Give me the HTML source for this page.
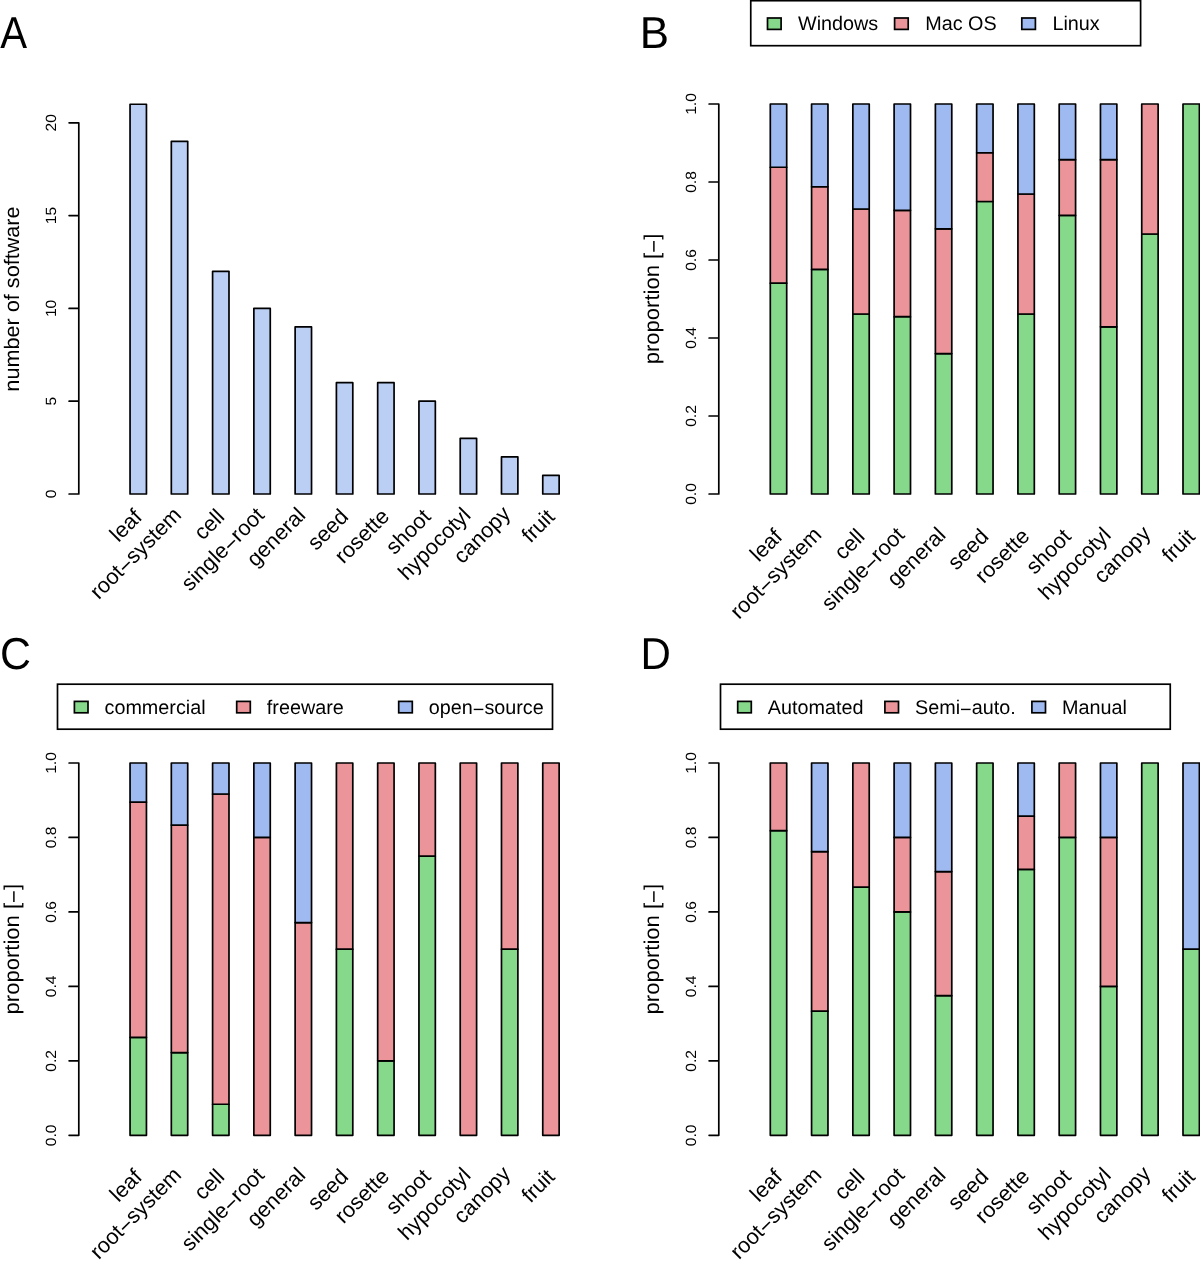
<!DOCTYPE html><html><head><meta charset="utf-8"><style>html,body{margin:0;padding:0;background:#fff;}svg{display:block;will-change:transform;font-kerning:none;text-rendering:geometricPrecision;}</style></head><body><svg width="1200" height="1264" viewBox="0 0 1200 1264" font-family='"Liberation Sans", sans-serif' fill="#000">
<rect width="1200" height="1264" fill="#fff"/>
<text transform="translate(0.3 47.6) scale(0.9 1)" font-size="44.7">A</text>
<text transform="translate(639.8 47.7) scale(0.98 1)" font-size="44.7">B</text>
<text transform="translate(0 669.2) scale(0.96 1)" font-size="44.7">C</text>
<text transform="translate(640.4 669) scale(0.94 1)" font-size="44.7">D</text>
<g stroke="#000" stroke-width="1.7" stroke-linejoin="round">
<rect x="130.05" y="104.24" width="16.4" height="389.76" fill="#BBCFF5"/>
<rect x="171.32" y="141.36" width="16.4" height="352.64" fill="#BBCFF5"/>
<rect x="212.59" y="271.28" width="16.4" height="222.72" fill="#BBCFF5"/>
<rect x="253.86" y="308.4" width="16.4" height="185.6" fill="#BBCFF5"/>
<rect x="295.13" y="326.96" width="16.4" height="167.04" fill="#BBCFF5"/>
<rect x="336.4" y="382.64" width="16.4" height="111.36" fill="#BBCFF5"/>
<rect x="377.67" y="382.64" width="16.4" height="111.36" fill="#BBCFF5"/>
<rect x="418.94" y="401.2" width="16.4" height="92.8" fill="#BBCFF5"/>
<rect x="460.21" y="438.32" width="16.4" height="55.68" fill="#BBCFF5"/>
<rect x="501.48" y="456.88" width="16.4" height="37.12" fill="#BBCFF5"/>
<rect x="542.75" y="475.44" width="16.4" height="18.56" fill="#BBCFF5"/>
</g>
<g stroke="#000" stroke-width="1.7" fill="none" stroke-linecap="round" stroke-linejoin="round">
<path d="M78.8 494V122.8M78.8 494H69.1M78.8 401.2H69.1M78.8 308.4H69.1M78.8 215.6H69.1M78.8 122.8H69.1"/>
</g>
<g font-size="15.6" text-anchor="middle">
<text transform="translate(56.2 494) rotate(-90) scale(1 0.95)">0</text>
<text transform="translate(56.2 401.2) rotate(-90) scale(1 0.95)">5</text>
<text transform="translate(56.2 308.4) rotate(-90) scale(1 0.95)">10</text>
<text transform="translate(56.2 215.6) rotate(-90) scale(1 0.95)">15</text>
<text transform="translate(56.2 122.8) rotate(-90) scale(1 0.95)">20</text>
</g>
<text font-size="21.65" text-anchor="middle" transform="translate(18.9 299) rotate(-90) scale(1 0.97)">number of software</text>
<g font-size="21.7" text-anchor="end">
<text transform="translate(143.32 518.17) rotate(-45) scale(1 1)">leaf</text>
<text transform="translate(182.61 516.19) rotate(-45) scale(1 1)">root<tspan dy="0.1em">−</tspan><tspan dy="-0.1em">system</tspan></text>
<text transform="translate(225.78 518.09) rotate(-45) scale(1 1)">cell</text>
<text transform="translate(265.48 516.52) rotate(-45) scale(1 1)">single<tspan dy="0.1em">−</tspan><tspan dy="-0.1em">root</tspan></text>
<text transform="translate(306.75 516.52) rotate(-45) scale(1 1)">general</text>
<text transform="translate(349.59 518.09) rotate(-45) scale(1 1)">seed</text>
<text transform="translate(390.49 517.72) rotate(-45) scale(1 1)">rosette</text>
<text transform="translate(432.13 518.09) rotate(-45) scale(1 1)">shoot</text>
<text transform="translate(471.88 516.57) rotate(-45) scale(1 1)">hypocotyl</text>
<text transform="translate(511.77 515.19) rotate(-45) scale(1 1)">canopy</text>
<text transform="translate(556.02 518.17) rotate(-45) scale(1 1)">fruit</text>
</g>
<g stroke="#000" stroke-width="1.7" stroke-linejoin="round">
<rect x="770.3" y="283.19" width="16.4" height="210.81" fill="#86D98B"/>
<rect x="770.3" y="167.24" width="16.4" height="115.95" fill="#EB9499"/>
<rect x="770.3" y="104" width="16.4" height="63.24" fill="#9FBAF0"/>
<rect x="811.57" y="269.45" width="16.4" height="224.55" fill="#86D98B"/>
<rect x="811.57" y="186.73" width="16.4" height="82.73" fill="#EB9499"/>
<rect x="811.57" y="104" width="16.4" height="82.73" fill="#9FBAF0"/>
<rect x="852.84" y="314" width="16.4" height="180" fill="#86D98B"/>
<rect x="852.84" y="209" width="16.4" height="105" fill="#EB9499"/>
<rect x="852.84" y="104" width="16.4" height="105" fill="#9FBAF0"/>
<rect x="894.11" y="316.73" width="16.4" height="177.27" fill="#86D98B"/>
<rect x="894.11" y="210.36" width="16.4" height="106.36" fill="#EB9499"/>
<rect x="894.11" y="104" width="16.4" height="106.36" fill="#9FBAF0"/>
<rect x="935.38" y="353.6" width="16.4" height="140.4" fill="#86D98B"/>
<rect x="935.38" y="228.8" width="16.4" height="124.8" fill="#EB9499"/>
<rect x="935.38" y="104" width="16.4" height="124.8" fill="#9FBAF0"/>
<rect x="976.65" y="201.5" width="16.4" height="292.5" fill="#86D98B"/>
<rect x="976.65" y="152.75" width="16.4" height="48.75" fill="#EB9499"/>
<rect x="976.65" y="104" width="16.4" height="48.75" fill="#9FBAF0"/>
<rect x="1017.92" y="314" width="16.4" height="180" fill="#86D98B"/>
<rect x="1017.92" y="194" width="16.4" height="120" fill="#EB9499"/>
<rect x="1017.92" y="104" width="16.4" height="90" fill="#9FBAF0"/>
<rect x="1059.19" y="215.43" width="16.4" height="278.57" fill="#86D98B"/>
<rect x="1059.19" y="159.71" width="16.4" height="55.71" fill="#EB9499"/>
<rect x="1059.19" y="104" width="16.4" height="55.71" fill="#9FBAF0"/>
<rect x="1100.46" y="326.86" width="16.4" height="167.14" fill="#86D98B"/>
<rect x="1100.46" y="159.71" width="16.4" height="167.14" fill="#EB9499"/>
<rect x="1100.46" y="104" width="16.4" height="55.71" fill="#9FBAF0"/>
<rect x="1141.73" y="234" width="16.4" height="260" fill="#86D98B"/>
<rect x="1141.73" y="104" width="16.4" height="130" fill="#EB9499"/>
<rect x="1183" y="104" width="16.4" height="390" fill="#86D98B"/>
</g>
<g stroke="#000" stroke-width="1.7" fill="none" stroke-linecap="round" stroke-linejoin="round">
<path d="M718.8 494V104M718.8 494H709.1M718.8 416H709.1M718.8 338H709.1M718.8 260H709.1M718.8 182H709.1M718.8 104H709.1"/>
</g>
<g font-size="15.6" text-anchor="middle">
<text transform="translate(696.2 494) rotate(-90) scale(1 0.95)">0.0</text>
<text transform="translate(696.2 416) rotate(-90) scale(1 0.95)">0.2</text>
<text transform="translate(696.2 338) rotate(-90) scale(1 0.95)">0.4</text>
<text transform="translate(696.2 260) rotate(-90) scale(1 0.95)">0.6</text>
<text transform="translate(696.2 182) rotate(-90) scale(1 0.95)">0.8</text>
<text transform="translate(696.2 104) rotate(-90) scale(1 0.95)">1.0</text>
</g>
<text font-size="22.05" text-anchor="middle" transform="translate(658.9 299) rotate(-90) scale(1 0.97)">proportion [<tspan dy="0.1em">−</tspan><tspan dy="-0.1em">]</tspan></text>
<g font-size="21.7" text-anchor="end">
<text transform="translate(783.57 537.92) rotate(-45) scale(1 1)">leaf</text>
<text transform="translate(822.86 535.94) rotate(-45) scale(1 1)">root<tspan dy="0.1em">−</tspan><tspan dy="-0.1em">system</tspan></text>
<text transform="translate(866.03 537.84) rotate(-45) scale(1 1)">cell</text>
<text transform="translate(905.73 536.27) rotate(-45) scale(1 1)">single<tspan dy="0.1em">−</tspan><tspan dy="-0.1em">root</tspan></text>
<text transform="translate(947 536.27) rotate(-45) scale(1 1)">general</text>
<text transform="translate(989.84 537.84) rotate(-45) scale(1 1)">seed</text>
<text transform="translate(1030.74 537.47) rotate(-45) scale(1 1)">rosette</text>
<text transform="translate(1072.38 537.84) rotate(-45) scale(1 1)">shoot</text>
<text transform="translate(1112.13 536.32) rotate(-45) scale(1 1)">hypocotyl</text>
<text transform="translate(1152.02 534.94) rotate(-45) scale(1 1)">canopy</text>
<text transform="translate(1196.27 537.92) rotate(-45) scale(1 1)">fruit</text>
</g>
<g stroke="#000" stroke-width="1.7" stroke-linejoin="round">
<rect x="130.05" y="1037.33" width="16.4" height="97.97" fill="#86D98B"/>
<rect x="130.05" y="802.19" width="16.4" height="235.14" fill="#EB9499"/>
<rect x="130.05" y="763" width="16.4" height="39.19" fill="#9FBAF0"/>
<rect x="171.32" y="1052.57" width="16.4" height="82.73" fill="#86D98B"/>
<rect x="171.32" y="825.05" width="16.4" height="227.52" fill="#EB9499"/>
<rect x="171.32" y="763" width="16.4" height="62.05" fill="#9FBAF0"/>
<rect x="212.59" y="1104.27" width="16.4" height="31.03" fill="#86D98B"/>
<rect x="212.59" y="794.02" width="16.4" height="310.25" fill="#EB9499"/>
<rect x="212.59" y="763" width="16.4" height="31.02" fill="#9FBAF0"/>
<rect x="253.86" y="837.46" width="16.4" height="297.84" fill="#EB9499"/>
<rect x="253.86" y="763" width="16.4" height="74.46" fill="#9FBAF0"/>
<rect x="295.13" y="922.56" width="16.4" height="212.74" fill="#EB9499"/>
<rect x="295.13" y="763" width="16.4" height="159.56" fill="#9FBAF0"/>
<rect x="336.4" y="949.15" width="16.4" height="186.15" fill="#86D98B"/>
<rect x="336.4" y="763" width="16.4" height="186.15" fill="#EB9499"/>
<rect x="377.67" y="1060.84" width="16.4" height="74.46" fill="#86D98B"/>
<rect x="377.67" y="763" width="16.4" height="297.84" fill="#EB9499"/>
<rect x="418.94" y="856.07" width="16.4" height="279.23" fill="#86D98B"/>
<rect x="418.94" y="763" width="16.4" height="93.07" fill="#EB9499"/>
<rect x="460.21" y="763" width="16.4" height="372.3" fill="#EB9499"/>
<rect x="501.48" y="949.15" width="16.4" height="186.15" fill="#86D98B"/>
<rect x="501.48" y="763" width="16.4" height="186.15" fill="#EB9499"/>
<rect x="542.75" y="763" width="16.4" height="372.3" fill="#EB9499"/>
</g>
<g stroke="#000" stroke-width="1.7" fill="none" stroke-linecap="round" stroke-linejoin="round">
<path d="M78.8 1135.3V763M78.8 1135.3H69.1M78.8 1060.84H69.1M78.8 986.38H69.1M78.8 911.92H69.1M78.8 837.46H69.1M78.8 763H69.1"/>
</g>
<g font-size="15.6" text-anchor="middle">
<text transform="translate(56.2 1135.3) rotate(-90) scale(1 0.95)">0.0</text>
<text transform="translate(56.2 1060.84) rotate(-90) scale(1 0.95)">0.2</text>
<text transform="translate(56.2 986.38) rotate(-90) scale(1 0.95)">0.4</text>
<text transform="translate(56.2 911.92) rotate(-90) scale(1 0.95)">0.6</text>
<text transform="translate(56.2 837.46) rotate(-90) scale(1 0.95)">0.8</text>
<text transform="translate(56.2 763) rotate(-90) scale(1 0.95)">1.0</text>
</g>
<text font-size="22.05" text-anchor="middle" transform="translate(18.9 949.15) rotate(-90) scale(1 0.97)">proportion [<tspan dy="0.1em">−</tspan><tspan dy="-0.1em">]</tspan></text>
<g font-size="21.7" text-anchor="end">
<text transform="translate(143.32 1178.17) rotate(-45) scale(1 1)">leaf</text>
<text transform="translate(182.61 1176.19) rotate(-45) scale(1 1)">root<tspan dy="0.1em">−</tspan><tspan dy="-0.1em">system</tspan></text>
<text transform="translate(225.78 1178.09) rotate(-45) scale(1 1)">cell</text>
<text transform="translate(265.48 1176.52) rotate(-45) scale(1 1)">single<tspan dy="0.1em">−</tspan><tspan dy="-0.1em">root</tspan></text>
<text transform="translate(306.75 1176.52) rotate(-45) scale(1 1)">general</text>
<text transform="translate(349.59 1178.09) rotate(-45) scale(1 1)">seed</text>
<text transform="translate(390.49 1177.72) rotate(-45) scale(1 1)">rosette</text>
<text transform="translate(432.13 1178.09) rotate(-45) scale(1 1)">shoot</text>
<text transform="translate(471.88 1176.57) rotate(-45) scale(1 1)">hypocotyl</text>
<text transform="translate(511.77 1175.19) rotate(-45) scale(1 1)">canopy</text>
<text transform="translate(556.02 1178.17) rotate(-45) scale(1 1)">fruit</text>
</g>
<g stroke="#000" stroke-width="1.7" stroke-linejoin="round">
<rect x="770.3" y="830.69" width="16.4" height="304.61" fill="#86D98B"/>
<rect x="770.3" y="763" width="16.4" height="67.69" fill="#EB9499"/>
<rect x="811.57" y="1011.2" width="16.4" height="124.1" fill="#86D98B"/>
<rect x="811.57" y="851.64" width="16.4" height="159.56" fill="#EB9499"/>
<rect x="811.57" y="763" width="16.4" height="88.64" fill="#9FBAF0"/>
<rect x="852.84" y="887.1" width="16.4" height="248.2" fill="#86D98B"/>
<rect x="852.84" y="763" width="16.4" height="124.1" fill="#EB9499"/>
<rect x="894.11" y="911.92" width="16.4" height="223.38" fill="#86D98B"/>
<rect x="894.11" y="837.46" width="16.4" height="74.46" fill="#EB9499"/>
<rect x="894.11" y="763" width="16.4" height="74.46" fill="#9FBAF0"/>
<rect x="935.38" y="995.69" width="16.4" height="139.61" fill="#86D98B"/>
<rect x="935.38" y="871.59" width="16.4" height="124.1" fill="#EB9499"/>
<rect x="935.38" y="763" width="16.4" height="108.59" fill="#9FBAF0"/>
<rect x="976.65" y="763" width="16.4" height="372.3" fill="#86D98B"/>
<rect x="1017.92" y="869.37" width="16.4" height="265.93" fill="#86D98B"/>
<rect x="1017.92" y="816.19" width="16.4" height="53.19" fill="#EB9499"/>
<rect x="1017.92" y="763" width="16.4" height="53.19" fill="#9FBAF0"/>
<rect x="1059.19" y="837.46" width="16.4" height="297.84" fill="#86D98B"/>
<rect x="1059.19" y="763" width="16.4" height="74.46" fill="#EB9499"/>
<rect x="1100.46" y="986.38" width="16.4" height="148.92" fill="#86D98B"/>
<rect x="1100.46" y="837.46" width="16.4" height="148.92" fill="#EB9499"/>
<rect x="1100.46" y="763" width="16.4" height="74.46" fill="#9FBAF0"/>
<rect x="1141.73" y="763" width="16.4" height="372.3" fill="#86D98B"/>
<rect x="1183" y="949.15" width="16.4" height="186.15" fill="#86D98B"/>
<rect x="1183" y="763" width="16.4" height="186.15" fill="#9FBAF0"/>
</g>
<g stroke="#000" stroke-width="1.7" fill="none" stroke-linecap="round" stroke-linejoin="round">
<path d="M718.8 1135.3V763M718.8 1135.3H709.1M718.8 1060.84H709.1M718.8 986.38H709.1M718.8 911.92H709.1M718.8 837.46H709.1M718.8 763H709.1"/>
</g>
<g font-size="15.6" text-anchor="middle">
<text transform="translate(696.2 1135.3) rotate(-90) scale(1 0.95)">0.0</text>
<text transform="translate(696.2 1060.84) rotate(-90) scale(1 0.95)">0.2</text>
<text transform="translate(696.2 986.38) rotate(-90) scale(1 0.95)">0.4</text>
<text transform="translate(696.2 911.92) rotate(-90) scale(1 0.95)">0.6</text>
<text transform="translate(696.2 837.46) rotate(-90) scale(1 0.95)">0.8</text>
<text transform="translate(696.2 763) rotate(-90) scale(1 0.95)">1.0</text>
</g>
<text font-size="22.05" text-anchor="middle" transform="translate(658.9 949.15) rotate(-90) scale(1 0.97)">proportion [<tspan dy="0.1em">−</tspan><tspan dy="-0.1em">]</tspan></text>
<g font-size="21.7" text-anchor="end">
<text transform="translate(783.57 1178.17) rotate(-45) scale(1 1)">leaf</text>
<text transform="translate(822.86 1176.19) rotate(-45) scale(1 1)">root<tspan dy="0.1em">−</tspan><tspan dy="-0.1em">system</tspan></text>
<text transform="translate(866.03 1178.09) rotate(-45) scale(1 1)">cell</text>
<text transform="translate(905.73 1176.52) rotate(-45) scale(1 1)">single<tspan dy="0.1em">−</tspan><tspan dy="-0.1em">root</tspan></text>
<text transform="translate(947 1176.52) rotate(-45) scale(1 1)">general</text>
<text transform="translate(989.84 1178.09) rotate(-45) scale(1 1)">seed</text>
<text transform="translate(1030.74 1177.72) rotate(-45) scale(1 1)">rosette</text>
<text transform="translate(1072.38 1178.09) rotate(-45) scale(1 1)">shoot</text>
<text transform="translate(1112.13 1176.57) rotate(-45) scale(1 1)">hypocotyl</text>
<text transform="translate(1152.02 1175.19) rotate(-45) scale(1 1)">canopy</text>
<text transform="translate(1196.27 1178.17) rotate(-45) scale(1 1)">fruit</text>
</g>
<rect x="750.75" y="0.7" width="389.85" height="45" fill="none" stroke="#000" stroke-width="1.7"/>
<rect x="767.5" y="18" width="13.6" height="11.4" fill="#86D98B" stroke="#000" stroke-width="1.7"/>
<text transform="translate(798 30.4) scale(1 1)" font-size="19.8">Windows</text>
<rect x="894.6" y="18" width="13.6" height="11.4" fill="#EB9499" stroke="#000" stroke-width="1.7"/>
<text transform="translate(925.2 30.4) scale(1 1)" font-size="19.8">Mac OS</text>
<rect x="1021.8" y="18" width="13.6" height="11.4" fill="#9FBAF0" stroke="#000" stroke-width="1.7"/>
<text transform="translate(1052.4 30.4) scale(1 1)" font-size="19.8">Linux</text>
<rect x="57.5" y="684.2" width="495" height="45" fill="none" stroke="#000" stroke-width="1.7"/>
<rect x="74.4" y="701.4" width="13.6" height="11.4" fill="#86D98B" stroke="#000" stroke-width="1.7"/>
<text transform="translate(104.5 713.8) scale(1 1)" font-size="19.8">commercial</text>
<rect x="236.7" y="701.4" width="13.6" height="11.4" fill="#EB9499" stroke="#000" stroke-width="1.7"/>
<text transform="translate(266.8 713.8) scale(1 1)" font-size="19.8">freeware</text>
<rect x="398.7" y="701.4" width="13.6" height="11.4" fill="#9FBAF0" stroke="#000" stroke-width="1.7"/>
<text transform="translate(428.8 713.8) scale(1 1)" font-size="19.8">open<tspan dy="0.1em">−</tspan><tspan dy="-0.1em">source</tspan></text>
<rect x="720.5" y="684.2" width="449.75" height="45" fill="none" stroke="#000" stroke-width="1.7"/>
<rect x="737.7" y="701.4" width="13.6" height="11.4" fill="#86D98B" stroke="#000" stroke-width="1.7"/>
<text transform="translate(767.8 713.8) scale(1 1)" font-size="19.8">Automated</text>
<rect x="884.9" y="701.4" width="13.6" height="11.4" fill="#EB9499" stroke="#000" stroke-width="1.7"/>
<text transform="translate(915 713.8) scale(1 1)" font-size="19.8">Semi<tspan dy="0.1em">−</tspan><tspan dy="-0.1em">auto.</tspan></text>
<rect x="1031.9" y="701.4" width="13.6" height="11.4" fill="#9FBAF0" stroke="#000" stroke-width="1.7"/>
<text transform="translate(1062 713.8) scale(1 1)" font-size="19.8">Manual</text>
</svg></body></html>
